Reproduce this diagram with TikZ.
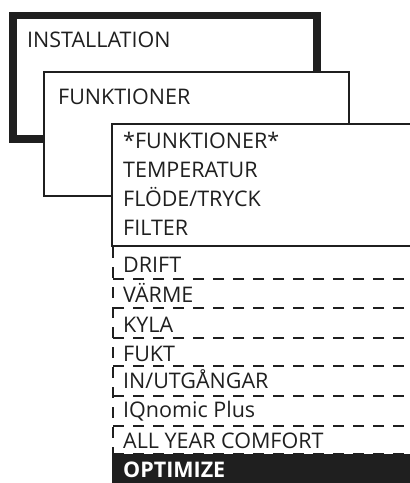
\documentclass[tikz,border=0pt]{standalone}
\usepackage{fontspec}
\setmainfont{Open Sans}
\begin{document}
\begin{tikzpicture}[x=1pt,y=-1pt,
  lbl/.style={anchor=base west,inner sep=0pt,font=\fontsize{21.5}{24}\selectfont,text=black!88},
  thickbox/.style={draw=black!88,line width=7.5pt,fill=white},
  thinbox/.style={draw=black!88,line width=2.6pt,fill=white},
  dashrow/.style={draw=black!88,line width=2.7pt,dash pattern=on 10.5pt off 9.5pt}]
\useasboundingbox (0,0) rectangle (410,483);
\begin{scope}
\clip (0,0) rectangle (410,483);
% level 1
\draw[thickbox] (13,15.5) rectangle (317,139);
\node[lbl] (inst) at (27,47) {INSTALLATION};
% level 2
\draw[thinbox] (44,72) rectangle (349,196);
\node[lbl] (funk) at (58,104) {FUNKTIONER};
% level 3
\draw[thinbox] (112,124) rectangle (430,246);
\node[lbl] (f1) at (123,148) {*FUNKTIONER*};
\node[lbl] (f2) at (123,177) {TEMPERATUR};
\node[lbl] (f3) at (123,206) {FLÖDE/TRYCK};
\node[lbl] (f4) at (123,235) {FILTER};
% dashed rows
\foreach \yy in {279,308,338,366,396,426,454}
  \draw[dashrow] (113,\yy) -- (420,\yy);
\draw[dashrow] (113,247) -- (113,454);
\node[lbl] (r1) at (123,272) {DRIFT};
\node[lbl] (r2) at (123,302) {VÄRME};
\node[lbl] (r3) at (123,332) {KYLA};
\node[lbl] (r4) at (123,361) {FUKT};
\node[lbl] (r5) at (123,388) {IN/UTGÅNGAR};
\node[lbl] (r6) at (123,417) {IQnomic Plus};
\node[lbl] (r7) at (123,448) {ALL YEAR COMFORT};
\fill[black!88] (112,454) rectangle (420,490);
\node[lbl,text=white,font=\fontsize{21.5}{24}\selectfont\bfseries] (r8) at (123,477) {OPTIMIZE};
\end{scope}
\end{tikzpicture}
\end{document}
